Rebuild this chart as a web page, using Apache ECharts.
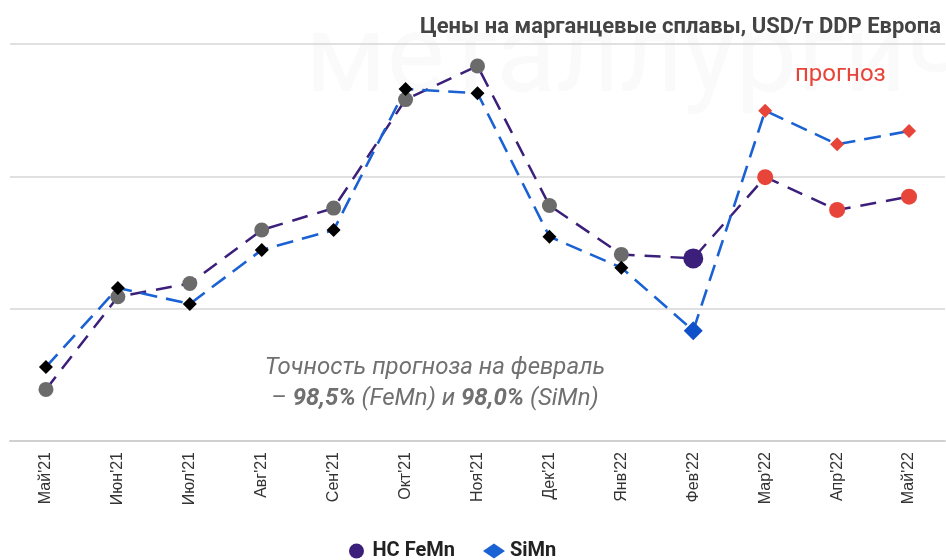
<!DOCTYPE html>
<html>
<head>
<meta charset="utf-8">
<script src="https://cdn.jsdelivr.net/npm/echarts@6/dist/echarts.min.js"></script>
<style>
  html, body { margin: 0; padding: 0; background: #fff; }
  #chart { width: 946px; height: 560px; }
</style>
</head>
<body>
<div id="chart"></div>
<script>
// данные (USD/т)
var months = ["Май'21", "Июн'21", "Июл'21", "Авг'21", "Сен'21", "Окт'21", "Ноя'21",
              "Дек'21", "Янв'22", "Фев'22", "Мар'22", "Апр'22", "Май'22"];
var feMn = [1195, 1545, 1595, 1797, 1880, 2290, 2417, 1890, 1705, 1690, 1997, 1873, 1923];
var siMn = [1280, 1578, 1518, 1722, 1797, 2330, 2314, 1772, 1655, 1417, 2248, 2121, 2171];
var yTicks = [1000, 1500, 2000, 2500];

var checkIdx = 9;      // февраль - проверка прогноза
var forecastFrom = 10; // прогноз

var purple = '#3b1f7a';
var blue = '#1a62d4';
var red = '#e8453a';

function pointsFeMn() {
  return feMn.map(function (v, i) {
    if (i >= forecastFrom) return { value: v, symbolSize: 16, itemStyle: { color: red } };
    if (i == checkIdx) return { value: v, symbolSize: 20, itemStyle: { color: purple } };
    return { value: v, symbolSize: 15, itemStyle: { color: '#6b6b6b' } };
  });
}
function pointsSiMn() {
  return siMn.map(function (v, i) {
    if (i >= forecastFrom) return { value: v, symbolSize: 14, itemStyle: { color: red } };
    if (i == checkIdx) return { value: v, symbolSize: 19, itemStyle: { color: '#1050c8' } };
    return { value: v, symbolSize: 14, itemStyle: { color: '#000' } };
  });
}

var chart = echarts.init(document.getElementById('chart'));

var option = {
  animation: false,
  backgroundColor: '#fff',
  grid: { left: 10, right: 1, top: 44, bottom: 119 },
  title: {
    text: 'Цены на марганцевые сплавы, USD/т DDP Европа',
    right: 0, top: 11,
    textStyle: { fontFamily: 'Roboto', fontWeight: 'bold', fontSize: 22, color: '#444' }
  },
  legend: {
    left: 344, top: 536,
    itemGap: 28, itemWidth: 22, itemHeight: 15,
    textStyle: { fontFamily: 'Roboto', fontWeight: 'bold', fontSize: 20, color: '#222' },
    data: [
      { name: 'HC FeMn', icon: 'circle' },
      { name: 'SiMn', icon: 'diamond' }
    ]
  },
  xAxis: {
    type: 'category',
    data: months,
    boundaryGap: true,
    axisLine: { lineStyle: { color: '#d0d0d0', width: 2 } },
    axisTick: { show: false },
    axisLabel: {
      rotate: 90, interval: 0, margin: 11,
      fontFamily: 'Liberation Sans', fontSize: 16, color: '#333'
    }
  },
  yAxis: {
    type: 'value',
    min: yTicks[0], max: yTicks[yTicks.length - 1], interval: 500,
    axisLabel: { show: false },
    axisLine: { show: false },
    axisTick: { show: false },
    splitLine: { lineStyle: { color: '#d6d6d6', width: 1.5 } }
  },
  graphic: [
    {
      type: 'text', left: 305, top: 8, z: -10, silent: true,
      style: { text: 'металлургический', fontFamily: 'Roboto', fontSize: 110, fill: '#fafafa' }
    },
    {
      type: 'text', left: 795, top: 63,
      style: { text: 'прогноз', fontFamily: 'Roboto', fontSize: 24, fill: red }
    },
    {
      type: 'text', x: 435, y: 368,
      style: {
        text: 'Точность прогноза на февраль',
        fontFamily: 'Roboto', fontStyle: 'italic', fontSize: 24, fill: '#707070',
        align: 'center', verticalAlign: 'middle'
      }
    },
    {
      type: 'text', x: 435, y: 399,
      style: {
        text: '{n|– }{b|98,5%}{n| (FeMn) и }{b|98,0%}{n| (SiMn)}',
        align: 'center', verticalAlign: 'middle',
        rich: {
          n: { fontFamily: 'Roboto', fontStyle: 'italic', fontSize: 24, fill: '#707070' },
          b: { fontFamily: 'Roboto', fontStyle: 'italic', fontWeight: 'bold', fontSize: 24, fill: '#707070' }
        }
      }
    }
  ],
  series: [
    {
      name: 'HC FeMn',
      type: 'line',
      symbol: 'circle',
      itemStyle: { color: purple },
      lineStyle: { color: purple, width: 2.5, type: [16, 10] },
      data: pointsFeMn()
    },
    {
      name: 'SiMn',
      type: 'line',
      symbol: 'diamond',
      itemStyle: { color: blue },
      lineStyle: { color: blue, width: 2.6, type: [17, 9] },
      data: pointsSiMn()
    }
  ]
};

chart.setOption(option);
</script>
</body>
</html>
